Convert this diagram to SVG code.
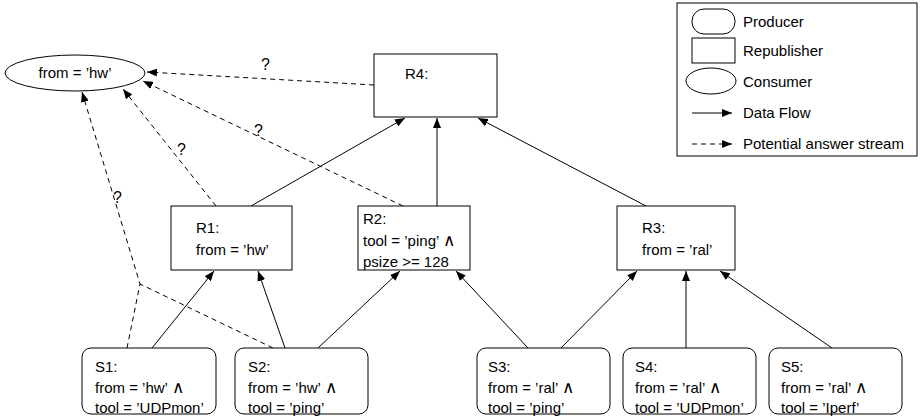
<svg xmlns="http://www.w3.org/2000/svg" width="922" height="420" viewBox="0 0 922 420">
  <defs>
    <style>
      text { font-family: "Liberation Sans", Arial, sans-serif; font-size: 15px; fill: #000; }
      .box { fill: #fff; stroke: #000; stroke-width: 1; }
      .flow { fill: none; stroke: #000; stroke-width: 1; marker-end: url(#arrow); }
      .maybe { fill: none; stroke: #000; stroke-width: 1; stroke-dasharray: 5 4; marker-end: url(#arrow); }
      .q { font-size: 16px; }
      .and { font-family: "DejaVu Sans", sans-serif; font-weight: 200; font-size: 17px; }
    </style>
    <marker id="arrow" viewBox="0 0 10 8" refX="10" refY="4" markerWidth="10" markerHeight="8" markerUnits="userSpaceOnUse" orient="auto">
      <path d="M0,0 L10,4 L0,8 Z" fill="#000"/>
    </marker>
  </defs>

  <rect width="922" height="420" fill="#fff"/>

  <!-- connectors -->
  <g id="connectors">
    <!-- data flow: producers to republishers -->
    <line class="flow" x1="152" y1="348" x2="214" y2="271"/>
    <line class="flow" x1="285" y1="348" x2="258" y2="271"/>
    <line class="flow" x1="318" y1="348" x2="400" y2="271"/>
    <line class="flow" x1="528" y1="348" x2="456" y2="271"/>
    <line class="flow" x1="561" y1="348" x2="637" y2="271"/>
    <line class="flow" x1="686" y1="348" x2="686" y2="271"/>
    <line class="flow" x1="832" y1="348" x2="720" y2="271"/>
    <!-- data flow: republishers to R4 -->
    <line class="flow" x1="251" y1="206" x2="405" y2="118"/>
    <line class="flow" x1="437" y1="206" x2="437" y2="118"/>
    <line class="flow" x1="646" y1="206" x2="478" y2="118"/>
    <!-- potential answer streams to the consumer -->
    <line class="maybe" x1="374" y1="85" x2="147" y2="72"/>
    <line class="maybe" x1="403" y1="206" x2="143" y2="81"/>
    <line class="maybe" x1="216" y1="206" x2="123" y2="89"/>
    <polyline class="maybe" points="127,348 140,284 82,92"/>
    <line fill="none" stroke="#000" stroke-dasharray="5 4" x1="273" y1="348" x2="140" y2="284"/>
    <text class="q" x="261" y="70">?</text>
    <text class="q" x="254" y="136">?</text>
    <text class="q" x="177" y="155">?</text>
    <text class="q" x="113" y="203">?</text>
  </g>

  <!-- consumer -->
  <g id="consumer">
    <ellipse class="box" cx="75" cy="73" rx="70" ry="18"/>
    <text x="75" y="78" text-anchor="middle">from = ’hw’</text>
  </g>

  <!-- republishers -->
  <g id="R4">
    <rect class="box" x="374" y="54" width="123" height="63"/>
    <text x="405" y="79">R4:</text>
  </g>
  <g id="R1">
    <rect class="box" x="171" y="206" width="121" height="64"/>
    <text x="196" y="233">R1:</text>
    <text x="196" y="255">from = ’hw’</text>
  </g>
  <g id="R2">
    <rect class="box" x="358" y="206" width="112" height="64"/>
    <text x="363" y="224">R2:</text>
    <text x="363" y="246">tool = ’ping’ <tspan class="and">∧</tspan></text>
    <text x="363" y="267">psize &gt;= 128</text>
  </g>
  <g id="R3">
    <rect class="box" x="617" y="206" width="118" height="64"/>
    <text x="642" y="233">R3:</text>
    <text x="642" y="255">from = ’ral’</text>
  </g>

  <!-- producers -->
  <g id="S1">
    <rect class="box" x="82" y="348" width="134" height="66" rx="9"/>
    <text x="95" y="372">S1:</text>
    <text x="95" y="393">from = ’hw’ <tspan class="and">∧</tspan></text>
    <text x="95" y="413">tool = ’UDPmon’</text>
  </g>
  <g id="S2">
    <rect class="box" x="235" y="348" width="133" height="66" rx="9"/>
    <text x="248" y="372">S2:</text>
    <text x="248" y="393">from = ’hw’ <tspan class="and">∧</tspan></text>
    <text x="248" y="413">tool = ’ping’</text>
  </g>
  <g id="S3">
    <rect class="box" x="477" y="348" width="133" height="66" rx="9"/>
    <text x="488" y="372">S3:</text>
    <text x="488" y="393">from = ’ral’ <tspan class="and">∧</tspan></text>
    <text x="488" y="413">tool = ’ping’</text>
  </g>
  <g id="S4">
    <rect class="box" x="623" y="348" width="133" height="66" rx="9"/>
    <text x="635" y="372">S4:</text>
    <text x="635" y="393">from = ’ral’ <tspan class="and">∧</tspan></text>
    <text x="635" y="413">tool = ’UDPmon’</text>
  </g>
  <g id="S5">
    <rect class="box" x="769" y="348" width="133" height="66" rx="9"/>
    <text x="781" y="372">S5:</text>
    <text x="781" y="393">from = ’ral’ <tspan class="and">∧</tspan></text>
    <text x="781" y="413">tool = ’Iperf’</text>
  </g>

  <!-- legend -->
  <g id="legend">
    <rect class="box" x="677" y="3" width="240" height="153"/>
    <rect class="box" x="692" y="9" width="43" height="25" rx="12"/>
    <text x="743" y="27">Producer</text>
    <rect class="box" x="692" y="38" width="43" height="25"/>
    <text x="743" y="56">Republisher</text>
    <ellipse class="box" cx="711" cy="81" rx="25" ry="13"/>
    <text x="743" y="87">Consumer</text>
    <line class="flow" x1="692" y1="113" x2="732" y2="113"/>
    <text x="743" y="118">Data Flow</text>
    <line class="maybe" x1="692" y1="144" x2="732" y2="144"/>
    <text x="743" y="149">Potential answer stream</text>
  </g>
</svg>
